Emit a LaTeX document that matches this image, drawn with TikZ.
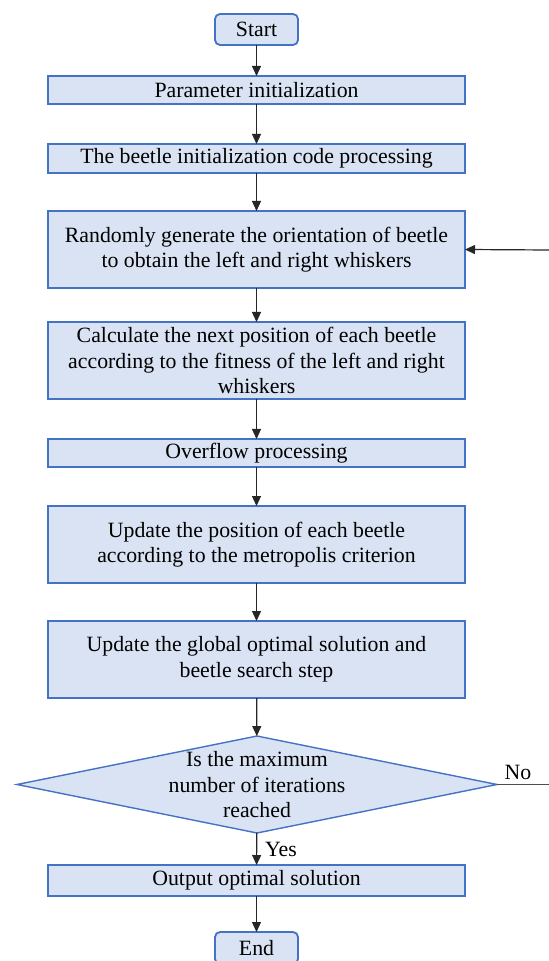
\documentclass[tikz,border=0pt]{standalone}
\usepackage{fontspec}
\setmainfont{Liberation Serif}
\usetikzlibrary{shapes.geometric,arrows.meta}
\definecolor{boxfill}{HTML}{DAE3F3}
\definecolor{boxdraw}{HTML}{4472C4}
\begin{document}
\begin{tikzpicture}[x=0.5pt,y=-0.5pt,
  every node/.style={font=\fontsize{10.9}{12.75}\selectfont, outer sep=0pt},
  procbox/.style={draw=boxdraw, fill=boxfill, line width=0.9pt, minimum width=208.5pt, align=center, inner sep=0pt},
  termbox/.style={draw=boxdraw, fill=boxfill, line width=0.9pt, rounded corners=2.5pt, minimum width=41.5pt, minimum height=15.5pt, inner sep=0pt},
  decbox/.style={draw=boxdraw, fill=boxfill, line width=0.7pt, shape=diamond, inner sep=0pt, minimum width=240pt, minimum height=48.5pt},
  conn/.style={draw=black!85, line width=0.6pt, -{Triangle[length=5pt,width=4.5pt]}},
  plainline/.style={draw=black!70, line width=0.6pt},
  lbl/.style={inner sep=0pt}
]
\useasboundingbox (0,0) rectangle (549,961);

\node[termbox] (start) at (256.5,29.5) {Start};
\node[procbox, minimum height=14pt] (b1) at (256.5,90) {Parameter initialization};
\node[procbox, minimum height=14.5pt] (b2) at (256.5,158.5) {The beetle initialization code processing};
\node[procbox, minimum height=38.5pt] (b3) at (256.5,249.5) {Randomly generate the orientation of beetle\\to obtain the left and right whiskers};
\node[procbox, minimum height=38.5pt] (b4) at (256.5,360.5) {Calculate the next position of each beetle\\according to the fitness of the left and right\\whiskers};
\node[procbox, minimum height=14pt] (b5) at (256.5,453) {Overflow processing};
\node[procbox, minimum height=38.5pt] (b6) at (256.5,544.5) {Update the position of each beetle\\according to the metropolis criterion};
\node[procbox, minimum height=38.5pt] (b7) at (256.5,659.5) {Update the global optimal solution and\\beetle search step};
\node[decbox] (dec) at (257,784.5) {};
\node[lbl, align=center] (dectext) at (257,785) {Is the maximum\\number of iterations\\reached};
\node[procbox, minimum height=15.5pt] (b8) at (256.5,880.5) {Output optimal solution};
\node[termbox, minimum height=16pt] (end) at (256.5,948) {End};

\coordinate (loopin) at (549,250);
\coordinate (noout) at (549,784.5);

\draw[conn] (start) -- (b1);
\draw[conn] (b1) -- (b2);
\draw[conn] (b2) -- (b3);
\draw[conn] (b3) -- (b4);
\draw[conn] (b4) -- (b5);
\draw[conn] (b5) -- (b6);
\draw[conn] (b6) -- (b7);
\draw[conn] (b7) -- (dec);
\draw[conn] (dec) -- (b8);
\draw[conn] (b8) -- (end);
\draw[conn] (loopin) -- (b3.east);
\draw[plainline] (dec.east) -- (noout);

\node[lbl] (nolbl) at (518,772) {No};
\node[lbl] (yeslbl) at (281,849) {Yes};
\end{tikzpicture}
\end{document}
